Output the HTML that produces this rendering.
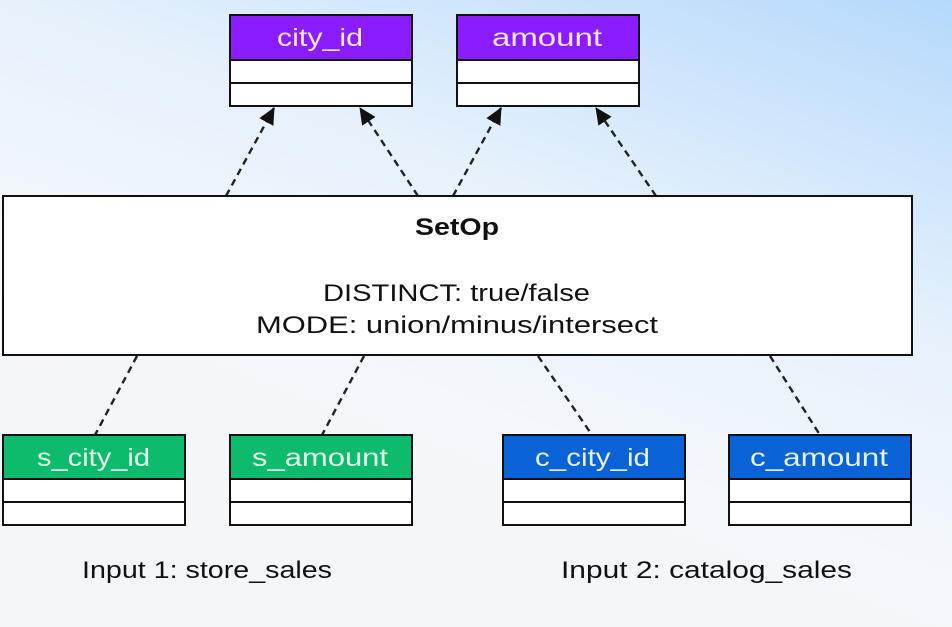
<!DOCTYPE html>
<html><head><style>
html,body{margin:0;padding:0;}
body{width:952px;height:627px;overflow:hidden;background:linear-gradient(200deg,#b5d9fb 0%,#e6f1fc 35%,#f4f7fb 60%,#f3f5f8 100%);font-family:"Liberation Sans",sans-serif;}
</style></head><body>
<svg width="952" height="627" xmlns="http://www.w3.org/2000/svg" style="position:absolute;left:0;top:0">
<defs><marker id="a" markerWidth="18" markerHeight="18" refX="16" refY="8" orient="auto" markerUnits="userSpaceOnUse"><path d="M0,0 L17,8 L0,16 z" fill="#111"/></marker></defs>
<g stroke="#222" stroke-width="2.4" stroke-dasharray="7,5" fill="none">
<line x1="226" y1="196" x2="274" y2="108" marker-end="url(#a)"/>
<line x1="418" y1="196" x2="360" y2="108" marker-end="url(#a)"/>
<line x1="453" y1="196" x2="501" y2="108" marker-end="url(#a)"/>
<line x1="656" y1="196" x2="596" y2="108" marker-end="url(#a)"/>
<line x1="137" y1="356" x2="95" y2="435"/>
<line x1="364" y1="356" x2="322" y2="435"/>
<line x1="538" y1="356" x2="592" y2="435"/>
<line x1="770" y1="356" x2="820" y2="435"/>
</g>
<g stroke="#111" stroke-width="2">
<rect x="230" y="15" width="182" height="45" fill="#8a1cff"/><rect x="230" y="60" width="182" height="23" fill="#fff"/><rect x="230" y="83" width="182" height="23" fill="#fff"/>
<rect x="457" y="15" width="182" height="45" fill="#8a1cff"/><rect x="457" y="60" width="182" height="23" fill="#fff"/><rect x="457" y="83" width="182" height="23" fill="#fff"/>
<rect x="3" y="196" width="909" height="159" fill="#fff"/>
<rect x="3" y="435" width="182" height="44" fill="#0dbb6c"/><rect x="3" y="479" width="182" height="23" fill="#fff"/><rect x="3" y="502" width="182" height="23" fill="#fff"/>
<rect x="230" y="435" width="182" height="44" fill="#0dbb6c"/><rect x="230" y="479" width="182" height="23" fill="#fff"/><rect x="230" y="502" width="182" height="23" fill="#fff"/>
<rect x="503" y="435" width="182" height="44" fill="#0a63d6"/><rect x="503" y="479" width="182" height="23" fill="#fff"/><rect x="503" y="502" width="182" height="23" fill="#fff"/>
<rect x="729" y="435" width="182" height="44" fill="#0a63d6"/><rect x="729" y="479" width="182" height="23" fill="#fff"/><rect x="729" y="502" width="182" height="23" fill="#fff"/>
</g>
<g font-family="Liberation Sans, sans-serif" font-size="25" fill="#f3e6ff">
<text x="277" y="46" textLength="86" lengthAdjust="spacingAndGlyphs">city_id</text><text x="492" y="46" textLength="110" lengthAdjust="spacingAndGlyphs">amount</text>
<text x="37" y="466" fill="#e6fff0" textLength="113" lengthAdjust="spacingAndGlyphs">s_city_id</text><text x="252" y="466" fill="#e6fff0" textLength="136" lengthAdjust="spacingAndGlyphs">s_amount</text>
<text x="535" y="466" fill="#e6f0ff" textLength="115" lengthAdjust="spacingAndGlyphs">c_city_id</text><text x="750" y="466" fill="#e6f0ff" textLength="138" lengthAdjust="spacingAndGlyphs">c_amount</text>
</g>
<g font-family="Liberation Sans, sans-serif" fill="#111">
<text x="415" y="235" font-size="24" font-weight="bold" textLength="84" lengthAdjust="spacingAndGlyphs">SetOp</text>
<text x="323" y="301" font-size="24" textLength="267" lengthAdjust="spacingAndGlyphs">DISTINCT: true/false</text>
<text x="256" y="333" font-size="24" textLength="402" lengthAdjust="spacingAndGlyphs">MODE: union/minus/intersect</text>
<text x="82" y="578" font-size="24" textLength="250" lengthAdjust="spacingAndGlyphs">Input 1: store_sales</text>
<text x="561" y="578" font-size="24" textLength="291" lengthAdjust="spacingAndGlyphs">Input 2: catalog_sales</text>
</g>
</svg>
</body></html>
